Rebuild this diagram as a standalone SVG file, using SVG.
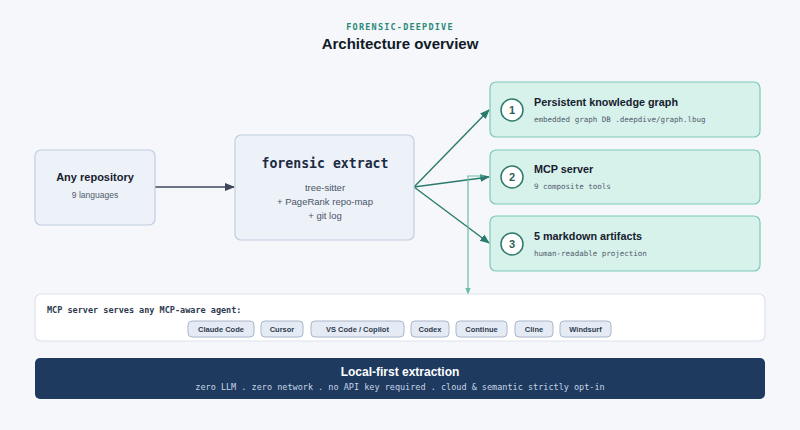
<svg xmlns="http://www.w3.org/2000/svg" width="800" height="430" viewBox="0 0 800 430">
<defs>
<style>
.sans{font-family:"Liberation Sans",Arial,sans-serif}
.mono{font-family:"DejaVu Sans Mono","Liberation Mono",monospace}
.box{fill:#edf1f8;stroke:#c3cee0;stroke-width:1.2}
.out{fill:#d7f1eb;stroke:#7fc9b7;stroke-width:1.2}
.num{fill:#fff;stroke:#2f7a6c;stroke-width:1.5}
.chip{fill:#e5ebf4;stroke:#a8b6ca;stroke-width:1}
.chipt{font-family:"Liberation Sans",Arial,sans-serif;font-size:7.5px;font-weight:bold;fill:#2d3a4e;text-anchor:middle}
.otitle{font-family:"Liberation Sans",Arial,sans-serif;font-size:10.8px;font-weight:bold;fill:#16202e}
.osub{font-family:"DejaVu Sans Mono","Liberation Mono",monospace;font-size:7.5px;fill:#4f5b6b}
.numt{font-family:"Liberation Sans",Arial,sans-serif;font-size:11px;font-weight:bold;fill:#2f5e57;text-anchor:middle}
</style>
<marker id="ad" viewBox="0 0 10 10" refX="9" refY="5" markerWidth="7" markerHeight="7" orient="auto"><path d="M0,1 L10,5 L0,9 z" fill="#3e4858"/></marker>
<marker id="at" viewBox="0 0 10 10" refX="9" refY="5" markerWidth="7" markerHeight="7" orient="auto"><path d="M0,1 L10,5 L0,9 z" fill="#2a7a6d"/></marker>
<marker id="al" viewBox="0 0 10 10" refX="9" refY="5" markerWidth="6" markerHeight="6" orient="auto"><path d="M0,1 L10,5 L0,9 z" fill="#6cbcaa"/></marker>
</defs>
<rect x="0" y="0" width="800" height="430" fill="#f5f7fb"/>
<g id="title">
<text x="400" y="30" text-anchor="middle" class="mono" font-size="8.5" font-weight="bold" letter-spacing="1.2" fill="#2a8a78">FORENSIC-DEEPDIVE</text>
<text x="400" y="49" text-anchor="middle" class="sans" font-size="15" font-weight="bold" fill="#111a26">Architecture overview</text>
</g>
<g id="connectors" fill="none">
<line x1="155" y1="187" x2="234" y2="187" stroke="#3e4858" stroke-width="1.5" marker-end="url(#ad)"/>
<line x1="414" y1="187" x2="489" y2="110" stroke="#2a7a6d" stroke-width="1.4" marker-end="url(#at)"/>
<line x1="414" y1="187" x2="489" y2="177" stroke="#2a7a6d" stroke-width="1.4" marker-end="url(#at)"/>
<line x1="414" y1="187" x2="489" y2="243" stroke="#2a7a6d" stroke-width="1.4" marker-end="url(#at)"/>
<polyline points="484,176 468,176 468,294" stroke="#6cbcaa" stroke-width="1.2" marker-end="url(#al)"/>
</g>
<g id="repo">
<rect class="box" x="35" y="150" width="120" height="75" rx="6"/>
<text x="95" y="181" text-anchor="middle" class="sans" font-size="11" font-weight="bold" fill="#16202e">Any repository</text>
<text x="95" y="198" text-anchor="middle" class="sans" font-size="8.5" fill="#4f5b6b">9 languages</text>
</g>
<g id="extract">
<rect class="box" x="235" y="135" width="179" height="105" rx="6"/>
<text x="325" y="168" text-anchor="middle" class="mono" font-size="13.2" font-weight="bold" fill="#1c2b44">forensic extract</text>
<text x="325" y="191" text-anchor="middle" class="sans" font-size="9.5" fill="#4a5567">tree-sitter</text>
<text x="325" y="205" text-anchor="middle" class="sans" font-size="9.5" fill="#4a5567">+ PageRank repo-map</text>
<text x="325" y="219" text-anchor="middle" class="sans" font-size="9.5" fill="#4a5567">+ git log</text>
</g>
<g id="out1">
<rect class="out" x="490" y="82" width="270" height="55" rx="6"/>
<circle class="num" cx="512" cy="110" r="11"/>
<text class="numt" x="512" y="114">1</text>
<text class="otitle" x="534" y="106">Persistent knowledge graph</text>
<text class="osub" x="534" y="122">embedded graph DB .deepdive/graph.lbug</text>
</g>
<g id="out2">
<rect class="out" x="490" y="150" width="270" height="54" rx="6"/>
<circle class="num" cx="512" cy="177" r="11"/>
<text class="numt" x="512" y="181">2</text>
<text class="otitle" x="534" y="173">MCP server</text>
<text class="osub" x="534" y="189">9 composite tools</text>
</g>
<g id="out3">
<rect class="out" x="490" y="216" width="270" height="55" rx="6"/>
<circle class="num" cx="512" cy="244" r="11"/>
<text class="numt" x="512" y="248">3</text>
<text class="otitle" x="534" y="240">5 markdown artifacts</text>
<text class="osub" x="534" y="256">human-readable projection</text>
</g>
<g id="agents">
<rect x="35" y="294" width="730" height="47" rx="6" fill="#ffffff" stroke="#dde3ec" stroke-width="1.2"/>
<text x="47" y="313" class="mono" font-size="8.5" font-weight="bold" fill="#2d3a4e">MCP server serves any MCP-aware agent:</text>
<rect class="chip" x="188" y="321" width="66" height="16" rx="4"/><text class="chipt" x="221" y="332">Claude Code</text>
<rect class="chip" x="261" y="321" width="42" height="16" rx="4"/><text class="chipt" x="282" y="332">Cursor</text>
<rect class="chip" x="311" y="321" width="93" height="16" rx="4"/><text class="chipt" x="357.5" y="332">VS Code / Copilot</text>
<rect class="chip" x="411" y="321" width="38" height="16" rx="4"/><text class="chipt" x="430" y="332">Codex</text>
<rect class="chip" x="456" y="321" width="51" height="16" rx="4"/><text class="chipt" x="481.5" y="332">Continue</text>
<rect class="chip" x="515" y="321" width="38" height="16" rx="4"/><text class="chipt" x="534" y="332">Cline</text>
<rect class="chip" x="560" y="321" width="51" height="16" rx="4"/><text class="chipt" x="585.5" y="332">Windsurf</text>
</g>
<g id="localfirst">
<rect x="35" y="358" width="730" height="41" rx="5" fill="#1e3a5f"/>
<text x="400" y="376" text-anchor="middle" class="sans" font-size="12" font-weight="bold" fill="#ffffff">Local-first extraction</text>
<text x="400" y="390" text-anchor="middle" class="mono" font-size="8.5" fill="#c8d5e6">zero LLM . zero network . no API key required . cloud &amp; semantic strictly opt-in</text>
</g>
</svg>
